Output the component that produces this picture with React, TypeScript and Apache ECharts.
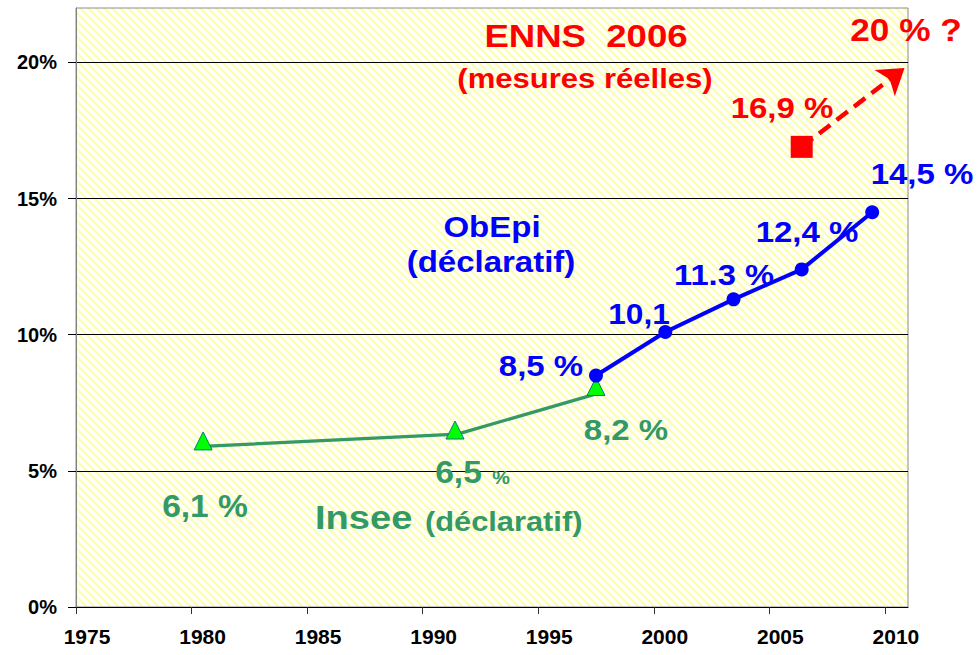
import React, { useEffect, useRef } from "react";
import * as echarts from "echarts";

// ---- data ----
const xTicks = [1975, 1980, 1985, 1990, 1995, 2000, 2005, 2010];
const yTicks = [0, 5, 10, 15, 20];

const inseeYears = [1980.5, 1991.4, 1997.5];
const inseeValues = [6.1, 6.5, 8.1];
const inseeLineYears = [1980.5, 1991.5, 1997.4];
const inseeLineValues = [5.9, 6.35, 7.8];

const obepiYears = [1997.5, 2000.5, 2003.45, 2006.4, 2009.45];
const obepiValues = [8.5, 10.1, 11.3, 12.4, 14.5];

const ennsYears = [2006.4];
const ennsValues = [16.9];
const projectionYears = [2006.4, 2010.85];
const projectionValues = [16.9, 19.8];

const FONT = "'Liberation Sans', Arial, sans-serif";
const RED = "#ff0000";
const BLUE = "#0000ff";
const GREEN = "#339966";

type Ann = { text: string; x: number; y: number; size: number; color: string; sx: number; align?: string };
const annotations: Ann[] = [
  { text: "ENNS  2006", x: 586, y: 36, size: 31, color: RED, sx: 1.18 },
  { text: "(mesures réelles)", x: 585, y: 78.5, size: 27, color: RED, sx: 1.15 },
  { text: "20 % ?", x: 906, y: 30, size: 32, color: RED, sx: 1.1 },
  { text: "16,9 %", x: 782, y: 108, size: 30, color: RED, sx: 1.1 },
  { text: "14,5 %", x: 922, y: 174, size: 30, color: BLUE, sx: 1.1 },
  { text: "12,4 %", x: 807, y: 232, size: 30, color: BLUE, sx: 1.1 },
  { text: "11.3 %", x: 724, y: 275, size: 30, color: BLUE, sx: 1.09 },
  { text: "10,1", x: 639, y: 314, size: 29, color: BLUE, sx: 1.09 },
  { text: "8,5 %", x: 541, y: 366, size: 30, color: BLUE, sx: 1.1 },
  { text: "ObEpi", x: 492, y: 227, size: 30, color: BLUE, sx: 1.1 },
  { text: "(déclaratif)", x: 491, y: 261.5, size: 30, color: BLUE, sx: 1.1 },
  { text: "8,2 %", x: 626, y: 430, size: 30, color: GREEN, sx: 1.1 },
  { text: "6,5", x: 458.5, y: 473, size: 30.5, color: GREEN, sx: 1.1 },
  { text: "%", x: 501, y: 478, size: 18, color: GREEN, sx: 1.1 },
  { text: "6,1 %", x: 205, y: 507, size: 30.5, color: GREEN, sx: 1.1 },
  { text: "Insee", x: 315, y: 517.5, size: 34, color: GREEN, sx: 1.12, align: "left" },
  { text: "(déclaratif)", x: 425, y: 521.5, size: 28, color: GREEN, sx: 1.1, align: "left" },
];

function makeHatch(): HTMLCanvasElement {
  const c = document.createElement("canvas");
  c.width = 8;
  c.height = 8;
  const ctx = c.getContext("2d")!;
  ctx.fillStyle = "#ffffff";
  ctx.fillRect(0, 0, 8, 8);
  ctx.strokeStyle = "#ffffa6";
  ctx.lineWidth = 2.4;
  for (let k = -1; k <= 1; k++) {
    ctx.beginPath();
    ctx.moveTo(-2, -2 + 8 * k);
    ctx.lineTo(10, 10 + 8 * k);
    ctx.stroke();
  }
  return c;
}

export default function App() {
  const ref = useRef<HTMLDivElement>(null);
  useEffect(() => {
    if (!ref.current) return;
    const chart = echarts.init(ref.current, undefined, { renderer: "svg" });
    const hatch = makeHatch();
    const zip = (xs: number[], ys: number[]) => xs.map((x, i) => [x, ys[i]]);
    const option: any = {
      animation: false,
      backgroundColor: "#ffffff",
      grid: {
        left: 76,
        right: 70,
        top: 8,
        bottom: 48,
        show: true,
        borderColor: "#8c8c8c",
        borderWidth: 1,
        backgroundColor: { image: hatch, repeat: "repeat", imageWidth: 8, imageHeight: 8 },
      },
      xAxis: {
        type: "value",
        min: 1975,
        max: 2011,
        interval: 5,
        splitLine: { show: false },
        axisLine: { show: true, onZero: false, lineStyle: { color: "#000", width: 1 } },
        axisTick: { show: true, length: 7, customValues: xTicks, lineStyle: { color: "#333" } },
        axisLabel: {
          customValues: xTicks,
          formatter: (v: number) => (v % 5 === 0 ? String(v) : ""),
          color: "#000",
          fontFamily: FONT,
          fontWeight: "bold",
          fontSize: 21,
          margin: 19,
          padding: [0, 0, 0, 22],
        },
      },
      yAxis: {
        type: "value",
        min: 0,
        max: 22,
        interval: 5,
        splitLine: { show: true, lineStyle: { color: "#000", width: 1 } },
        axisLine: { show: true, lineStyle: { color: "#808080", width: 1 } },
        axisTick: { show: true, length: 8, customValues: yTicks, lineStyle: { color: "#000" } },
        axisLabel: {
          customValues: yTicks,
          formatter: (v: number) => (v % 5 === 0 ? v + "%" : ""),
          color: "#000",
          fontFamily: FONT,
          fontWeight: "bold",
          fontSize: 20,
          margin: 19,
        },
      },
      series: [
        {
          name: "Insee trend",
          type: "line",
          data: zip(inseeLineYears, inseeLineValues),
          showSymbol: false,
          symbol: "none",
          lineStyle: { color: GREEN, width: 3.3 },
          z: 2,
        },
        {
          name: "Insee",
          type: "scatter",
          data: zip(inseeYears, inseeValues),
          symbol: "triangle",
          symbolSize: 18,
          itemStyle: { color: "#00ff00", borderColor: "#007f7f", borderWidth: 1, opacity: 1 },
          z: 3,
        },
        {
          name: "ObEpi",
          type: "line",
          data: zip(obepiYears, obepiValues),
          symbol: "circle",
          symbolSize: 14,
          lineStyle: { color: BLUE, width: 4 },
          itemStyle: { color: BLUE, borderWidth: 0, opacity: 1 },
          z: 4,
        },
        {
          name: "Projection",
          type: "line",
          data: [],
          z: 5,
          markLine: {
            silent: true,
            symbol: ["none", "arrow"],
            symbolSize: 25,
            label: { show: false },
            lineStyle: { color: RED, width: 4.5, type: [14, 8], opacity: 1 },
            itemStyle: { color: RED },
            data: [
              [
                { coord: [projectionYears[0], projectionValues[0]] },
                { coord: [projectionYears[1], projectionValues[1]] },
              ],
            ],
          },
        },
        {
          name: "ENNS 2006",
          type: "scatter",
          data: zip(ennsYears, ennsValues),
          symbol: "rect",
          symbolSize: 22,
          itemStyle: { color: RED, opacity: 1 },
          z: 6,
        },
      ],
      graphic: annotations.map((a) => ({
        type: "text",
        x: a.x,
        y: a.y,
        scaleX: a.sx,
        z: 100,
        silent: true,
        style: {
          text: a.text,
          fill: a.color,
          fontFamily: FONT,
          fontWeight: "bold",
          fontSize: a.size,
          align: a.align || "center",
          verticalAlign: "middle",
        },
      })),
    };
    chart.setOption(option);
    return () => chart.dispose();
  }, []);
  return (
    <div
      ref={ref}
      style={{ position: "absolute", left: 0, top: 0, width: 978, height: 655, background: "#fff" }}
    />
  );
}
